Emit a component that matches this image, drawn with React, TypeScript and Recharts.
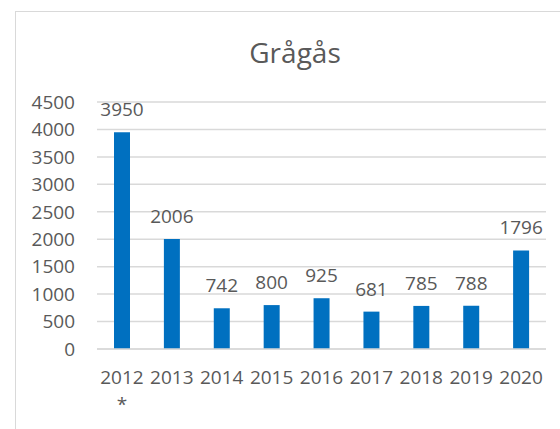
import React from "react";
import { BarChart, Bar, XAxis, YAxis, CartesianGrid, LabelList } from "recharts";

const years = ["2012", "2013", "2014", "2015", "2016", "2017", "2018", "2019", "2020"];
const yearNotes = ["*", "", "", "", "", "", "", "", ""];
const counts = [3950, 2006, 742, 800, 925, 681, 785, 788, 1796];
const yTicks = [0, 500, 1000, 1500, 2000, 2500, 3000, 3500, 4000, 4500];

const data = years.map((y, i) => ({ year: y, note: yearNotes[i], value: counts[i] }));

const FONT = "'Open Sans', 'Noto Sans', sans-serif";
const GRAY = "#595959";

const XTick = (props: any) => {
  const { x, y, payload, index } = props;
  const note = yearNotes[index] ?? "";
  return (
    <g>
      <text x={x} y={y} textAnchor="middle" fill={GRAY} fontSize={19} fontFamily={FONT} dy="0.71em">
        {payload.value}
      </text>
      {note ? (
        <text x={x} y={y + 27} textAnchor="middle" fill={GRAY} fontSize={19} fontFamily={FONT} dy="0.71em">
          {note}
        </text>
      ) : null}
    </g>
  );
};

export default function App() {
  return (
    <div style={{ position: "absolute", left: 0, top: 0, width: 560, height: 429, overflow: "hidden", background: "#fff" }}>
      <div
        style={{
          position: "absolute",
          left: 15,
          top: 11,
          width: 580,
          height: 440,
          border: "1.5px solid #D9D9D9",
          boxSizing: "border-box",
        }}
      />
      <div style={{ position: "absolute", left: 0, top: 0 }}>
        <BarChart width={560} height={429} data={data} margin={{ top: 102, right: 14, bottom: 0, left: 0 }}>
          <CartesianGrid vertical={false} stroke="#D9D9D9" strokeWidth={1.5} />
          <XAxis
            dataKey="year"
            height={80}
            axisLine={{ stroke: "#D9D9D9", strokeWidth: 1.5 }}
            tickLine={false}
            tickSize={0}
            tickMargin={22}
            interval={0}
            tick={<XTick />}
          />
          <YAxis
            width={97}
            domain={[0, 4500]}
            ticks={yTicks}
            axisLine={false}
            tickLine={false}
            tickSize={0}
            tickMargin={22}
            tick={{ fill: GRAY, fontSize: 19, fontFamily: FONT }}
            interval={0}
          />
          <Bar dataKey="value" fill="#0070C0" barSize={16} isAnimationActive={false}>
            <LabelList dataKey="value" position="top" offset={16} fill={GRAY} fontSize={19} fontFamily={FONT} />
          </Bar>
        </BarChart>
      </div>
      <svg width={560} height={429} style={{ position: "absolute", left: 0, top: 0, pointerEvents: "none" }}>
        <text x={295} y={63} textAnchor="middle" fill={GRAY} fontSize={28} fontFamily={FONT}>
          Grågås
        </text>
      </svg>
    </div>
  );
}
